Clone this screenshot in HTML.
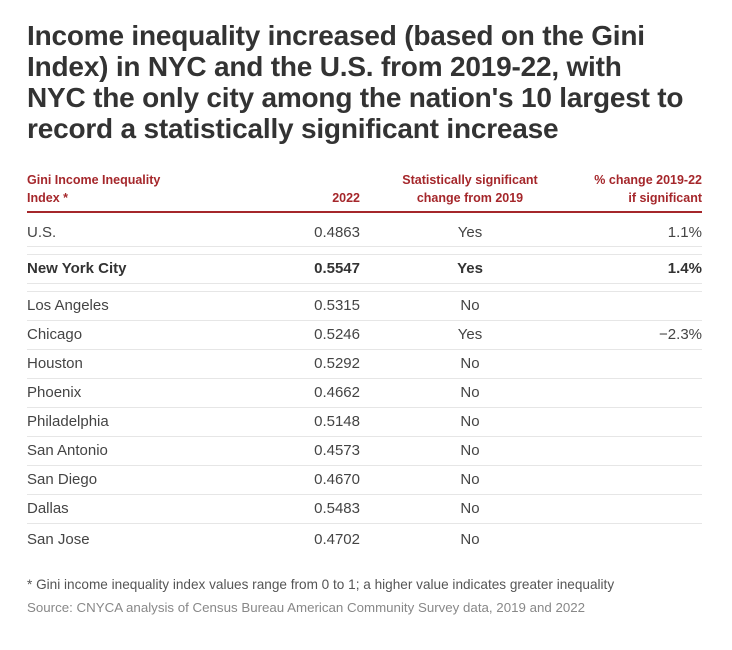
<!DOCTYPE html>
<html><head><meta charset="utf-8"><style>
body{margin:0;width:732px;height:650px;background:#fff;font-family:"Liberation Sans",sans-serif;position:relative;overflow:hidden}
.t{position:absolute;left:27px;top:20px;font-size:28px;font-weight:bold;line-height:31px;color:#333;letter-spacing:-0.2px}
.h{position:absolute;font-size:12.5px;color:#a5272b;line-height:18px;font-weight:bold}
.r{position:absolute;left:27px;width:675px;height:29px;font-size:15px;color:#444;line-height:29px}
.r span{position:absolute}
.c1{left:0}.c2{right:342px}.c3{left:403px;width:80px;text-align:center}.c4{right:0}
.ln{position:absolute;left:27px;width:675px;height:1px;background:#e6e6e6}
.f{position:absolute;left:27px;font-size:13.6px;color:#555}
</style></head><body>
<div class="t">Income inequality increased (based on the Gini<br>Index) in NYC and the U.S. from 2019-22, with<br>NYC the only city among the nation's 10 largest to<br>record a statistically significant increase</div>
<div class="h" style="left:27px;top:171px">Gini Income Inequality<br>Index *</div>
<div class="h" style="right:372px;top:189px">2022</div>
<div class="h" style="left:390px;width:160px;text-align:center;top:171px">Statistically significant<br>change from 2019</div>
<div class="h" style="right:30px;top:171px;text-align:right">% change 2019-22<br>if significant</div>
<div style="position:absolute;left:27px;width:675px;top:211px;height:2px;background:#a5272b"></div>
<div class="r" style="top:218px"><span class="c1">U.S.</span><span class="c2">0.4863</span><span class="c3">Yes</span><span class="c4">1.1%</span></div>
<div class="ln" style="top:246px"></div><div class="ln" style="top:254px"></div>
<div class="r" style="top:254px;font-weight:bold;color:#333"><span class="c1">New York City</span><span class="c2">0.5547</span><span class="c3">Yes</span><span class="c4">1.4%</span></div>
<div class="ln" style="top:283px"></div><div class="ln" style="top:291px"></div>
<div class="r" style="top:291px"><span class="c1">Los Angeles</span><span class="c2">0.5315</span><span class="c3">No</span></div>
<div class="ln" style="top:320px"></div>
<div class="r" style="top:320px"><span class="c1">Chicago</span><span class="c2">0.5246</span><span class="c3">Yes</span><span class="c4">−2.3%</span></div>
<div class="ln" style="top:349px"></div>
<div class="r" style="top:349px"><span class="c1">Houston</span><span class="c2">0.5292</span><span class="c3">No</span></div>
<div class="ln" style="top:378px"></div>
<div class="r" style="top:378px"><span class="c1">Phoenix</span><span class="c2">0.4662</span><span class="c3">No</span></div>
<div class="ln" style="top:407px"></div>
<div class="r" style="top:407px"><span class="c1">Philadelphia</span><span class="c2">0.5148</span><span class="c3">No</span></div>
<div class="ln" style="top:436px"></div>
<div class="r" style="top:436px"><span class="c1">San Antonio</span><span class="c2">0.4573</span><span class="c3">No</span></div>
<div class="ln" style="top:465px"></div>
<div class="r" style="top:465px"><span class="c1">San Diego</span><span class="c2">0.4670</span><span class="c3">No</span></div>
<div class="ln" style="top:494px"></div>
<div class="r" style="top:494px"><span class="c1">Dallas</span><span class="c2">0.5483</span><span class="c3">No</span></div>
<div class="ln" style="top:523px"></div>
<div class="r" style="top:525px"><span class="c1">San Jose</span><span class="c2">0.4702</span><span class="c3">No</span></div>
<div class="f" style="top:577px">* Gini income inequality index values range from 0 to 1; a higher value indicates greater inequality</div>
<div class="f" style="top:600px;color:#888;font-size:13.3px">Source: CNYCA analysis of Census Bureau American Community Survey data, 2019 and 2022</div>
</body></html>
